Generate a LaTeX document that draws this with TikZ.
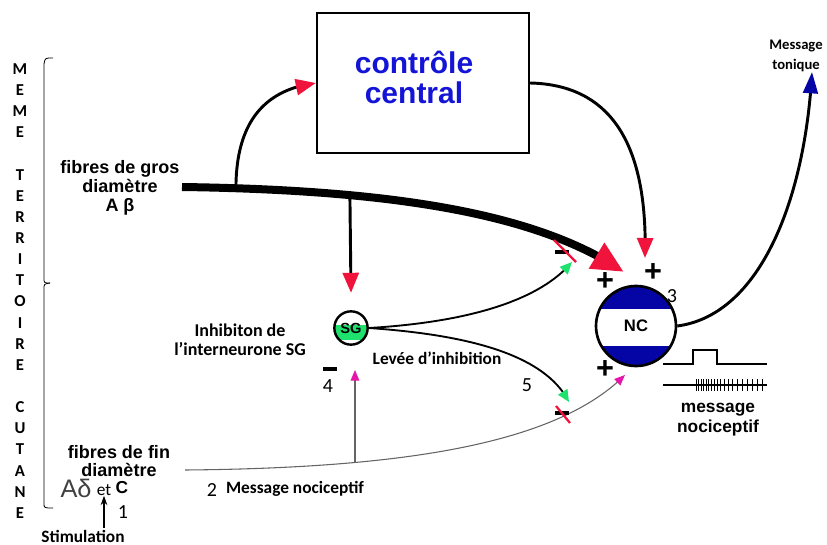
\documentclass[tikz,border=0pt]{standalone}
\usepackage{fontspec}
\setmainfont{Liberation Sans}
\newfontfamily\calib{Carlito}
\usetikzlibrary{arrows.meta,bending}
\definecolor{rouge}{RGB}{240,20,60}
\definecolor{vert}{RGB}{30,225,110}
\definecolor{rose}{RGB}{230,20,170}
\definecolor{bleunc}{RGB}{5,5,165}
\definecolor{bleutexte}{RGB}{20,20,215}
\definecolor{grisfin}{RGB}{100,100,100}
\tikzset{
    lettre/.style={font=\calib\bfseries\fontsize{12.5}{12.5}\selectfont, inner sep=0pt},
    etiquette/.style={font=\calib\bfseries\fontsize{13}{14}\selectfont, align=center, inner sep=1pt},
    chiffre/.style={font=\calib\fontsize{15}{15}\selectfont, inner sep=0pt},
    signe/.style={font=\bfseries\fontsize{23}{23}\selectfont, inner sep=0pt},
    titre/.style={font=\bfseries\fontsize{13.5}{14}\selectfont, align=center, inner sep=1pt},
    moins/.style={fill=black, minimum width=11pt, minimum height=2.8pt, inner sep=0pt},
    barre/.style={draw=rouge, line width=1.7pt},
    fleche rouge/.style={-{Triangle[length=15pt,width=12pt,color=rouge,flex]}, line width=2.2pt},
    fleche verte/.style={-{Triangle[length=9pt,width=8pt,color=vert,flex]}, line width=1.4pt},
    fleche rose/.style={-{Triangle[length=8pt,width=6.5pt,color=rose,flex]}, draw=grisfin, line width=0.8pt},
}
\begin{document}
\begin{tikzpicture}[x=0.75pt, y=-0.75pt]
\useasboundingbox (0,0) rectangle (827,545);

% territoire
\foreach \l [count=\i from 0] in {M,E,M,E,{},T,E,R,R,I,T,O,I,R,E,{},C,U,T,A,N,E}
    \node[lettre] (l\i) at (20,{69+21.14*\i}) {\l};
\draw[line width=0.6pt] (53,58) .. controls (45,58) .. (44,64) -- (44,278) .. controls (44,283) .. (50,283);
\draw[line width=0.6pt] (50,283) .. controls (44,284) .. (44,289) -- (44,503) .. controls (44,508) .. (53,508);

% controle central
\node[rectangle, draw, line width=1.8pt, minimum width=159pt, minimum height=105pt] (ctrl) at (423,83) {};
\node[font=\bfseries\fontsize{22.5}{22.5}\selectfont, text=bleutexte, align=center] (ctrltxt) at (414,77) {contrôle\\central};

% neurones
\node[circle, draw, line width=2pt, minimum size=60pt, inner sep=0pt,
    font=\bfseries\fontsize{12.5}{12.5}\selectfont,
    path picture={
      \fill[bleunc] (path picture bounding box.north west) rectangle ([yshift=-17pt]path picture bounding box.north east);
      \fill[bleunc] (path picture bounding box.south west) rectangle ([yshift=15pt]path picture bounding box.south east);
    }] (nc) at (636,326) {NC};
\node[circle, draw, line width=1.8pt, minimum size=25pt, inner sep=0pt,
    font=\bfseries\fontsize{11}{11}\selectfont,
    path picture={
      \fill[vert] ([yshift=-10pt]path picture bounding box.north west) rectangle ([yshift=3.5pt]path picture bounding box.south east);
    }] (sg) at (351,328) {SG};

% fibres
\node[titre] (gros) at (120,188) {fibres de gros\\diamètre\\A β};
\node[titre] (fin) at (119,461) {fibres de fin\\diamètre};
\node[font=\fontsize{19}{19}\selectfont, text=black!75, inner sep=0pt] (adelta) at (76,488) {Aδ};
\node[font=\calib\fontsize{13}{13}\selectfont, inner sep=0pt] (et) at (104,490) {et};
\node[font=\bfseries\fontsize{13}{13}\selectfont, inner sep=0pt] (c) at (122,488) {C};
\node[etiquette] (stim) at (83,536) {Stimulation};
\draw[-{Stealth[length=7pt,width=5pt]}, line width=0.9pt] (stim.north -| et) -- (et.south);

\coordinate (abeta) at (182,187);
\coordinate (pointegros) at (624,272);
\coordinate (pointectrl) at (645,258);
\coordinate (pointesg) at ([yshift=13pt]sg.north);
\coordinate (pointevert1) at (572,262);
\coordinate (pointevert2) at (569,402);
\coordinate (pointerose) at (625,375);
\coordinate (pointesgbas) at (353,370);
\coordinate (departfin) at (185,470);
\coordinate (sortie) at (812,72);

% voies
\draw[-{Triangle[length=24pt,width=21pt,color=rouge,flex]}, line width=6pt]
    (abeta) .. controls (400,190) and (540,215) .. (pointegros)
    coordinate[pos=0.085] (br1) coordinate[pos=0.285] (br2);
\draw[fleche rouge] (br1) .. controls (236,125) and (262,90) .. (ctrl.west);
\draw[fleche rouge] (br2) -- (pointesg);
\draw[fleche rouge] (ctrl.east) .. controls (615,85) and (648,150) .. (pointectrl);
\draw[fleche verte] (sg.east) .. controls (470,322) and (540,300) .. (pointevert1);
\draw[fleche verte] (sg.east) .. controls (470,335) and (545,355) .. (pointevert2);
\draw[fleche rose] (departfin) .. controls (420,468) and (560,440) .. (pointerose)
    coordinate[pos=0.27] (brfin);
\draw[fleche rose] (brfin) -- (brfin |- pointesgbas);
\draw[-{Triangle[length=16pt,width=11pt,color=bleunc,flex]}, line width=2.2pt]
    (nc.east) .. controls (760,315) and (805,200) .. (sortie);

% signes
\node[moins] (moinsh) at (562,252) {};
\draw[barre] ([shift={(-8,-12)}]moinsh.center) -- ([shift={(14,10)}]moinsh.center);
\node[moins] (moinsb) at (562,413) {};
\draw[barre] ([shift={(-6,-7)}]moinsb.center) -- ([shift={(8,10)}]moinsb.center);
\node[moins] (moinssg) at (330,369) {};
\node[signe] (plus1) at (605,282) {+};
\node[signe] (plus2) at (653,273) {+};
\node[signe] (plus3) at (605,370) {+};

% chiffres
\node[chiffre] (n1) at (123,512) {1};
\node[chiffre] (n2) at (212,490) {2};
\node[chiffre] (n3) at (672,296) {3};
\node[chiffre] (n4) at (328,386) {4};
\node[chiffre] (n5) at (527,385) {5};

% textes
\node[etiquette, font=\calib\bfseries\fontsize{13.5}{14}\selectfont] (inhib) at (240,340) {Inhibiton de\\l’interneurone SG};
\node[etiquette] (levee) at (437,358) {Levée d’inhibition};
\node[etiquette] (msgnoci) at (295,489) {Message nociceptif};
\node[etiquette, font=\calib\bfseries\fontsize{11}{15}\selectfont] (tonique) at (796,56) {Message\\tonique};
\node[titre, font=\bfseries\fontsize{13}{15}\selectfont] (msg) at (718,420) {message\\nociceptif};

% potentiels
\draw[line width=1pt] (663,364) -- (693,364) -- (693,350) -- (717,350) -- (717,364) -- (767,364);
\draw[line width=1pt] (663,385) -- (767,385);
\foreach \x in {696,698.5,701,703.5,706,708.5,711,714,717,720,724,728,732,737,742,747,752,757,762}
    \draw[line width=0.6pt] (\x,379) -- (\x,391);
\end{tikzpicture}
\end{document}
